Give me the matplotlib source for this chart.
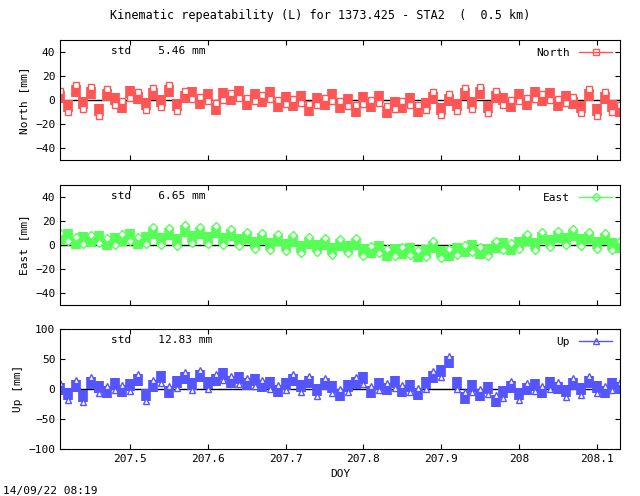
import numpy as np
import matplotlib
matplotlib.use("Agg")
from matplotlib import pyplot as plt
from matplotlib.lines import Line2D

plt.rcParams['font.family'] = 'DejaVu Sans Mono'
plt.rcParams['font.size'] = 8

doy_start = 207.41
doy_step = 0.01

north = [3,-5,8,-2,6,-8,4,1,-6,7,2,-3,5,-1,8,-4,3,6,-2,4,-7,5,1,7,-3,4,-1,6,-5,2,-4,3,-8,1,-3,4,-6,0,-9,2,-5,3,-10,-2,-6,1,-9,-3,2,-7,0,-4,5,-2,6,-6,3,1,-5,4,-3,6,0,5,-4,3,-2,-6,4,-8,2,-5,-9]
east = [5,8,2,6,3,7,1,5,4,8,2,6,10,5,9,4,12,7,10,6,11,5,8,4,6,2,5,1,4,0,3,-2,2,-1,1,-3,0,-2,1,-4,-6,-2,-8,-4,-7,-3,-9,-5,-2,-6,-8,-3,-5,-1,-7,-4,-2,1,-3,2,4,1,6,3,7,5,8,4,6,2,5,1,-2]
up = [0,-8,5,-12,10,3,-5,8,-3,6,15,-10,5,20,-5,12,18,8,22,10,15,25,12,18,8,15,5,10,-3,8,15,5,12,-2,8,3,-10,5,10,18,-5,8,0,12,-3,5,-8,10,20,30,45,10,-15,5,-10,2,-20,-5,3,-8,0,6,-5,10,2,-3,8,0,12,3,-5,8,2]
# approximate half-width of the scatter band (mm)
spread = [5, 5, 10]

names = ['North', 'East', 'Up']
stds = ['5.46', '6.65', '12.83']
ylabels = ['North [mm]', 'East [mm]', 'Up [mm]']
series = [north, east, up]
colors = ['#ff5555', '#55ff55', '#5555ff']
markers = ['s', 'D', '^']
ylims = [(-50, 50), (-50, 50), (-100, 100)]
yticks = [[-40, -20, 0, 20, 40], [-40, -20, 0, 20, 40], [-100, -50, 0, 50, 100]]
xticks = [207.5, 207.6, 207.7, 207.8, 207.9, 208.0, 208.1]
xticklabels = ['207.5', '207.6', '207.7', '207.8', '207.9', '208', '208.1']

fig = plt.figure(figsize=(6.4, 4.96), dpi=100)
fig.text(0.5, 0.962, 'Kinematic repeatability (L) for 1373.425 - STA2  (  0.5 km)', ha='center', fontsize=8.5)
fig.text(0.005, 0.005, '14/09/22 08:19')

bottoms = [0.677, 0.385, 0.095]
for i in range(3):
    ax = fig.add_axes([0.094, bottoms[i], 0.875, 0.242])
    y = np.array(series[i], dtype=float)
    x = doy_start + doy_step * np.arange(len(y))
    ax.axhline(0, color='black', lw=1)
    ax.errorbar(x, y, yerr=spread[i], fmt='none', ecolor=colors[i], elinewidth=7)
    ax.plot(x[::2], (y + spread[i])[::2], ls='none', marker=markers[i], ms=4, mfc='white', color=colors[i])
    ax.plot(x[1::2], (y - spread[i])[1::2], ls='none', marker=markers[i], ms=4, mfc='white', color=colors[i])
    ax.set_xlim(207.41, 208.13)
    ax.set_ylim(*ylims[i])
    ax.set_yticks(yticks[i])
    ax.set_xticks(xticks)
    ax.tick_params(direction='in', top=True, right=True)
    if i < 2:
        ax.set_xticklabels([])
    else:
        ax.set_xticklabels(xticklabels)
        ax.set_xlabel('DOY')
    ax.set_ylabel(ylabels[i])
    ax.text(0.09, 0.95, 'std    ' + stds[i] + ' mm', transform=ax.transAxes, va='top')
    h = Line2D([], [], color=colors[i], lw=1, marker=markers[i], ms=4, mfc='none')
    ax.legend([h], [names[i]], loc='upper right', frameon=False, markerfirst=False,
              handlelength=3, borderaxespad=0.3)

fig.savefig('out.png')
